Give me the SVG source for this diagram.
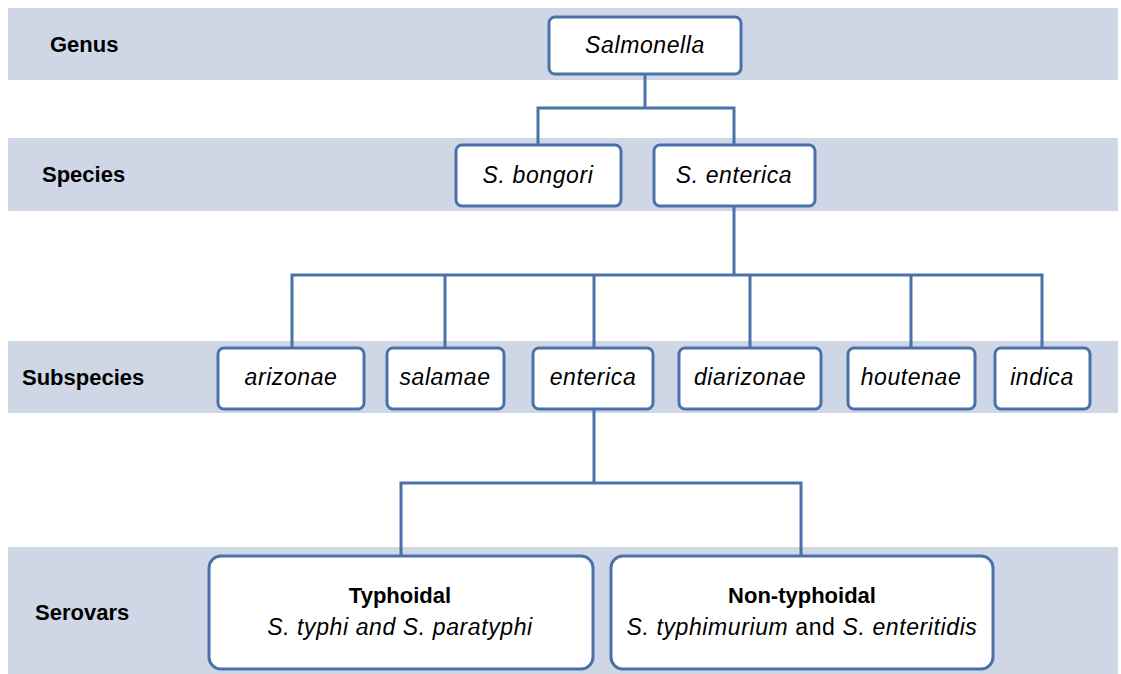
<svg xmlns="http://www.w3.org/2000/svg" width="1121" height="674" viewBox="0 0 1121 674">
<style>
.band{fill:#CFD7E6}
.box{fill:#FFFFFF;stroke:#4A72A8;stroke-width:3}
.lbl{font-family:"Liberation Sans",Arial,sans-serif;font-size:22px;font-weight:bold;fill:#000}
.it{font-family:"Liberation Sans",Arial,sans-serif;font-size:23px;font-style:italic;letter-spacing:0.6px;fill:#000;text-anchor:middle}
.bt{font-family:"Liberation Sans",Arial,sans-serif;font-size:22px;font-weight:bold;fill:#000;text-anchor:middle}
.rg{font-style:normal}
.con{fill:none;stroke:#4A72A8;stroke-width:3}
</style>
<rect width="1121" height="674" fill="#FFFFFF"/>
<g id="bands">
<rect class="band" x="8" y="8" width="1110" height="72"/>
<rect class="band" x="8" y="138" width="1110" height="73"/>
<rect class="band" x="8" y="341" width="1110" height="72"/>
<rect class="band" x="8" y="547" width="1110" height="127"/>
<text class="lbl" x="50" y="52">Genus</text>
<text class="lbl" x="42" y="182">Species</text>
<text class="lbl" x="22" y="385">Subspecies</text>
<text class="lbl" x="35" y="620">Serovars</text>
</g>
<g id="connectors">
<path class="con" d="M645 74V108M538 145V108H734V145"/>
<path class="con" d="M734 206V275M292 348V275H1042V348M445 275V348M594 275V348M750 275V348M911 275V348"/>
<path class="con" d="M594 409V483M401 556V483H801V556"/>
</g>
<g id="salmonella"><rect class="box" x="549" y="17" width="192" height="57" rx="6"/><text class="it" x="645" y="53">Salmonella</text></g>
<g id="bongori"><rect class="box" x="456" y="145" width="165" height="61" rx="6"/><text class="it" x="538" y="183">S. bongori</text></g>
<g id="s-enterica"><rect class="box" x="654" y="145" width="161" height="61" rx="6"/><text class="it" x="734" y="183">S. enterica</text></g>
<g id="arizonae"><rect class="box" x="218" y="348" width="146" height="61" rx="6"/><text class="it" x="291" y="385">arizonae</text></g>
<g id="salamae"><rect class="box" x="387" y="348" width="117" height="61" rx="6"/><text class="it" x="445" y="385">salamae</text></g>
<g id="enterica"><rect class="box" x="533" y="348" width="120" height="61" rx="6"/><text class="it" x="593" y="385">enterica</text></g>
<g id="diarizonae"><rect class="box" x="679" y="348" width="142" height="61" rx="6"/><text class="it" x="750" y="385">diarizonae</text></g>
<g id="houtenae"><rect class="box" x="848" y="348" width="127" height="61" rx="6"/><text class="it" x="911" y="385">houtenae</text></g>
<g id="indica"><rect class="box" x="995" y="348" width="95" height="61" rx="6"/><text class="it" x="1042" y="385">indica</text></g>
<g id="typhoidal"><rect class="box" x="209" y="556" width="384" height="113" rx="12"/><text class="bt" x="400" y="603">Typhoidal</text><text class="it" x="400" y="635">S. typhi and S. paratyphi</text></g>
<g id="non-typhoidal"><rect class="box" x="611" y="556" width="382" height="113" rx="12"/><text class="bt" x="802" y="603">Non-typhoidal</text><text class="it" x="802" y="635">S. typhimurium<tspan class="rg"> and </tspan>S. enteritidis</text></g>
</svg>
